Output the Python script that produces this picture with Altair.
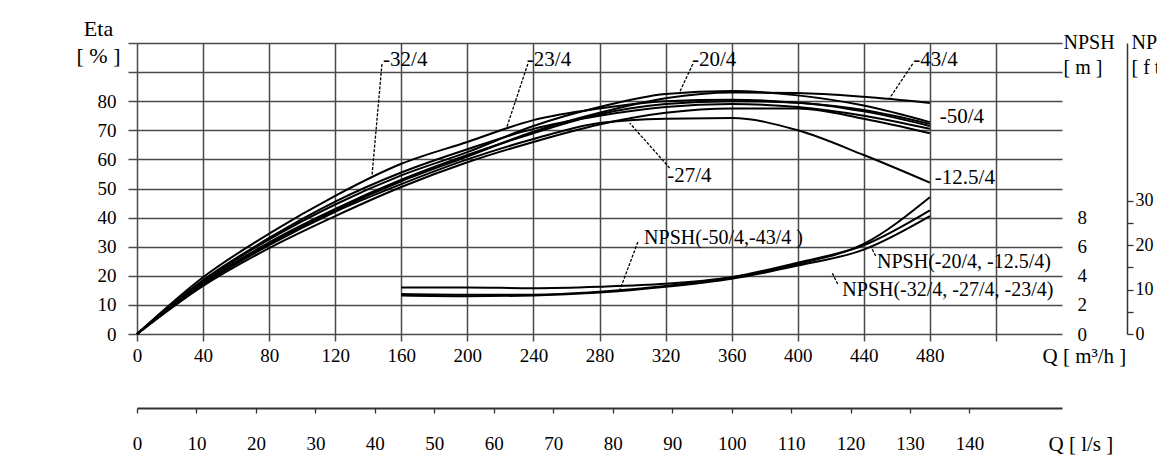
import altair as alt
import pandas as pd

# ---------------- data ----------------
q_m3h = [0, 40, 80, 120, 160, 200, 240, 280, 320, 360, 400, 440, 480]
eta_43 = [0, 17, 31, 42.5, 52.5, 61, 69.5, 76, 81, 83, 82.8, 81.5, 79.4]
eta_20 = [0, 18, 32.5, 44.5, 54.5, 62.5, 71.5, 78, 82.5, 83.5, 82, 78.5, 72.8]
eta_23 = [0, 19.5, 34.5, 47.5, 58.5, 66, 73.5, 77.5, 80, 80.5, 79.5, 77, 72.2]
eta_50 = [0, 17.5, 31.5, 43, 53, 61.5, 69, 75.5, 79, 80, 79.5, 76.5, 71.5]
eta_32 = [0, 18.5, 33, 45.5, 55.5, 63.5, 70.5, 75, 78, 79, 78, 75, 70.5]
eta_27 = [0, 16.5, 29.5, 40.5, 50.5, 59, 66, 72, 76, 77.5, 77.5, 74, 69]
eta_125 = [0, 17, 30.5, 42, 51.5, 60, 67, 72.5, 74, 74.2, 70, 61.5, 52]

npsh_q = [160, 200, 240, 280, 320, 360, 400, 440, 480]
npsh_50_43 = [3.2, 3.2, 3.15, 3.25, 3.45, 3.9, 4.8, 6.2, 9.4]
npsh_20_125 = [2.75, 2.7, 2.7, 2.9, 3.3, 3.9, 4.9, 6.1, 8.5]
npsh_32_27_23 = [2.65, 2.6, 2.65, 2.85, 3.25, 3.8, 4.7, 5.8, 8.1]

curve_text = ["-32/4", "-23/4", "-20/4", "-43/4", "-50/4", "-12.5/4", "-27/4"]
curve_q = [149, 236, 336, 470, 486, 483, 321]
curve_eta = [94.2, 94.2, 94.2, 94.2, 74.6, 53.6, 54.3]

npsh_text = ["NPSH(-50/4,-43/4 )", "NPSH(-20/4, -12.5/4)", "NPSH(-32/4, -27/4, -23/4)"]
npsh_text_q = [307, 448, 427]
npsh_text_eta = [33, 24.7, 15.1]

leader_q1 = [148.3, 236.6, 336.5, 469.6, 322.5, 303.2, 447.2, 424.2]
leader_eta1 = [92.8, 92.8, 92.8, 92.8, 57.0, 31.6, 26.8, 17.2]
leader_q2 = [142.2, 223.9, 328.6, 455.7, 298.3, 292.3, 444.2, 420.6]
leader_eta2 = [54.0, 71.1, 83.2, 81.1, 72.5, 15.1, 30.2, 21.3]

# ---------------- tables ----------------
eta_series = {"-43/4": eta_43, "-20/4": eta_20, "-23/4": eta_23, "-50/4": eta_50,
              "-32/4": eta_32, "-27/4": eta_27, "-12.5/4": eta_125}
eta_df = pd.DataFrame([{"Q": q, "eta": e, "curve": k}
                       for k, vals in eta_series.items() for q, e in zip(q_m3h, vals)])
npsh_series = {"A": npsh_50_43, "B": npsh_20_125, "C": npsh_32_27_23}
npsh_df = pd.DataFrame([{"Q": q, "npsh": v, "curve": k}
                        for k, vals in npsh_series.items() for q, v in zip(npsh_q, vals)])
curve_lab_df = pd.DataFrame({"Q": curve_q, "eta": curve_eta, "txt": curve_text})
npsh_lab_df = pd.DataFrame({"Q": npsh_text_q, "eta": npsh_text_eta, "txt": npsh_text})
lead_df = pd.DataFrame({"Q": leader_q1, "eta": leader_eta1, "Q2": leader_q2, "eta2": leader_eta2})

FONT = "Liberation Serif"
GRID = "#4a4a4a"
INK = "#000000"
TICKFS = 19

x_scale = alt.Scale(domain=[0, 560], nice=False, zero=False)
y_scale = alt.Scale(domain=[0, 100], nice=False, zero=False)

x_axis = alt.Axis(values=list(range(0, 521, 40)),
                  labelExpr="datum.value <= 480 ? datum.label : ''",
                  grid=True, gridColor=GRID, gridWidth=1.5, gridOpacity=1,
                  domain=False, ticks=True, tickSize=7, tickColor=GRID, tickWidth=1.5,
                  labelFont=FONT, labelFontSize=TICKFS, labelColor=INK, labelPadding=5,
                  labelFlush=False,
                  title="Q  [ m³/h ]", titleFont=FONT, titleFontSize=21,
                  titleFontWeight="normal", titleColor=INK, titleAngle=0,
                  titleX=905, titleY=28, titleAlign="left", titleBaseline="alphabetic")
y_axis = alt.Axis(values=list(range(0, 101, 10)),
                  labelExpr="datum.value <= 80 ? datum.label : ''",
                  grid=True, gridColor=GRID, gridWidth=1.5, gridOpacity=1,
                  domain=False, ticks=True, tickSize=9, tickColor=GRID, tickWidth=1.5,
                  labelFont=FONT, labelFontSize=TICKFS, labelColor=INK, labelPadding=12,
                  labelFlush=False,
                  title=["Eta", "[ % ]"], titleFont=FONT, titleFontSize=22,
                  titleFontWeight="normal", titleColor=INK, titleAngle=0,
                  titleX=-39, titleY=-8, titleAlign="center", titleBaseline="alphabetic",
                  titleLineHeight=27)

X = alt.X("Q:Q", scale=x_scale, axis=x_axis)
Y = alt.Y("eta:Q", scale=y_scale, axis=y_axis)

lines = alt.Chart(eta_df).mark_line(color="black", strokeWidth=2, interpolate="monotone").encode(
    x=X, y=Y, detail="curve:N")
curve_labels = alt.Chart(curve_lab_df).mark_text(
    font=FONT, fontSize=21, color=INK, align="left", baseline="middle").encode(
    x=X, y=Y, text="txt:N")
npsh_labels = alt.Chart(npsh_lab_df).mark_text(
    font=FONT, fontSize=20, color=INK, align="left", baseline="middle").encode(
    x=X, y=Y, text="txt:N")
leaders = alt.Chart(lead_df).mark_rule(color=INK, strokeWidth=1.3, strokeDash=[3, 1.5]).encode(
    x=X, y=Y, x2="Q2:Q", y2="eta2:Q")

eta_group = alt.layer(lines, leaders, curve_labels, npsh_labels)

npsh = alt.Chart(npsh_df).mark_line(color="black", strokeWidth=2, interpolate="monotone").encode(
    x=alt.X("Q:Q", scale=x_scale, axis=None),
    y=alt.Y("npsh:Q", scale=alt.Scale(domain=[0, 20], nice=False, zero=False),
            axis=alt.Axis(orient="right", values=[0, 2, 4, 6, 8], grid=False, domain=False,
                          ticks=False, labelPadding=15, labelFont=FONT, labelFontSize=TICKFS,
                          labelColor=INK, labelFlush=False,
                          title=["NPSH", "[ m ]"], titleFont=FONT, titleFontSize=20,
                          titleFontWeight="normal", titleColor=INK, titleAngle=0,
                          titleX=1, titleY=5, titleAlign="left", titleBaseline="alphabetic",
                          titleLineHeight=25)),
    detail="curve:N")

ft_df = pd.DataFrame({"ft": [0, 65.617]})
ft_axis = alt.Chart(ft_df).mark_point(opacity=0).encode(
    y=alt.Y("ft:Q", scale=alt.Scale(domain=[0, 65.617], nice=False, zero=False),
            axis=alt.Axis(orient="right", offset=65, values=[0, 5, 10, 15, 20, 25, 30],
                          labelExpr="datum.value % 10 == 0 ? datum.label : ''",
                          grid=False, domain=True, domainColor="#333", domainWidth=1.5,
                          ticks=True, tickSize=6, tickColor="#333", tickWidth=1.3,
                          labelPadding=2, labelFont=FONT, labelFontSize=18, labelColor=INK,
                          labelFlush=False,
                          title=["NPSH", "[ f t ]"], titleFont=FONT, titleFontSize=20,
                          titleFontWeight="normal", titleColor=INK, titleAngle=0,
                          titleX=4, titleY=5, titleAlign="left", titleBaseline="alphabetic",
                          titleLineHeight=25)))

ls_df = pd.DataFrame({"ls": [0, 155.556]})
ls_axis = alt.Chart(ls_df).mark_point(opacity=0).encode(
    x=alt.X("ls:Q", scale=alt.Scale(domain=[0, 155.556], nice=False, zero=False),
            axis=alt.Axis(orient="bottom", offset=74, values=list(range(0, 141, 10)),
                          grid=False, domain=True, domainColor="#333", domainWidth=1.8,
                          ticks=True, tickSize=5, tickColor="#333", tickWidth=1.3,
                          labelPadding=21, labelFont=FONT, labelFontSize=TICKFS, labelColor=INK,
                          labelFlush=False,
                          title="Q  [ l/s ]", titleFont=FONT, titleFontSize=21,
                          titleFontWeight="normal", titleColor=INK, titleAngle=0,
                          titleX=911, titleY=42, titleAlign="left", titleBaseline="alphabetic")))

chart = alt.layer(eta_group, npsh, ft_axis, ls_axis).resolve_scale(
    x="independent", y="independent"
).properties(
    width=925, height=291,
    padding={"left": 129, "top": 35, "right": 95, "bottom": 130},
    autosize=alt.AutoSizeParams(type="none"),
    background="white",
).configure_view(stroke=None)

chart.save("out.html", embed_options={"renderer": "svg", "actions": False})
